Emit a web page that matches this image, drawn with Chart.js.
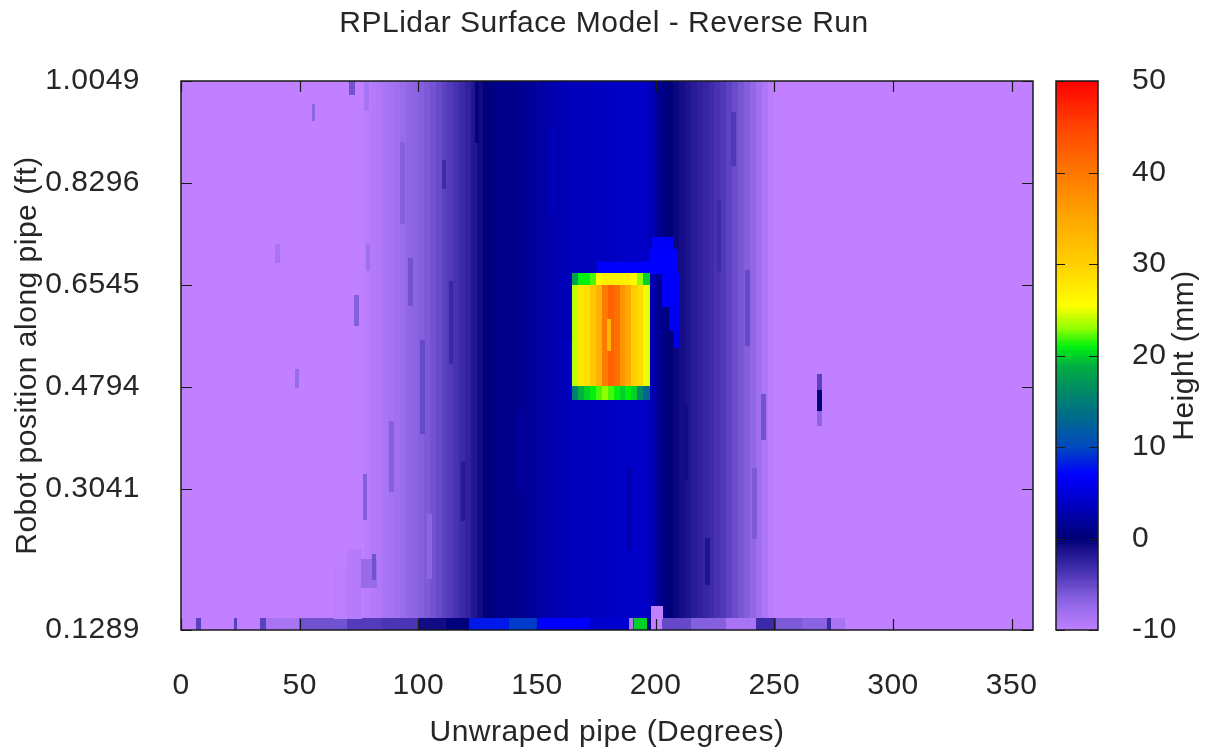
<!DOCTYPE html>
<html lang="en">
<head>
  <meta charset="UTF-8">
  <title>RPLidar Surface Model - Reverse Run</title>
  <script src="https://cdn.jsdelivr.net/npm/chart.js"></script>
  <style>
    body {
      margin: 0;
      background: #ffffff;
    }
    canvas {
      display: block;
    }
  </style>
</head>
<body>
  <canvas id="surfaceChart" width="1208" height="751"></canvas>

  <script>
    // axis ticks
    const xTicks = [0, 50, 100, 150, 200, 250, 300, 350];
    const yTickPos = [0.0624, 0.3041, 0.4794, 0.6545, 0.8296, 1.0049];
    const yTickLabels = ['0.1289', '0.3041', '0.4794', '0.6545', '0.8296', '1.0049'];
    const cbTicks = [-10, 0, 10, 20, 30, 40, 50];

    // colour palette (height in mm -> colour)
    const paletteVals = [-10, -8, -6, -4, -2, 0, 2, 4, 7, 10, 13, 16, 19, 21, 23, 25.5, 30, 35, 40, 45, 50];
    const paletteCols = ['#c080ff', '#a070f0', '#7c5ad8', '#5038b8', '#2a1c98', '#000078', '#00009c', '#0000c8',
      '#0000ff', '#0048c0', '#006890', '#008868', '#00b040', '#00f010', '#90ff00', '#ffff00', '#ffd000',
      '#ffa800', '#ff7800', '#ff4400', '#ff0000'];

    // surface profile across the pipe (degrees -> mm), whole run
    const profileEdges = [0, 77.5, 80, 82.5, 85, 87.5, 90, 92.5, 95, 97.5, 100, 102.5, 105, 107.5, 110, 112.5,
      115, 117.5, 120, 122.5, 125, 127.5, 130, 132.5, 135, 137.5, 140, 142.5, 145, 147.5, 150, 152.5, 155,
      157.5, 160, 162.5, 165, 167.5, 170, 172.5, 175, 177.5, 180, 182.5, 185, 187.5, 190, 192.5, 195, 197.5,
      200, 202.5, 205, 207.5, 210, 212.5, 215, 217.5, 220, 222.5, 225, 227.5, 230, 232.5, 235, 237.5, 240,
      242.5, 245, 247.5, 250, 359];
    const profileVals = [-10, -9.6, -9.3, -9, -8.7, -8.3, -8, -7.6, -7.2, -6.9, -6.5, -6, -5.6, -5.1, -4.6,
      -4.1, -3.6, -3, -2.4, -1.6, -0.8, 0, 0.6, 0.9, 1, 1.1, 1.3, 1.5, 1.7, 2, 2.3, 2.6, 2.8, 3, 3.2,
      3.4, 3.5, 3.5, 3.6, 3.6, 3.7, 3.7, 3.8, 3.8, 3.9, 3.9, 4, 4, 3.8, 3, 1.6, 0.8, 0, -0.5, -1, -1.4,
      -1.9, -2.3, -2.7, -3.1, -3.6, -4, -4.6, -5.2, -5.8, -6.4, -7.2, -8, -8.8, -9.6, -10];
    const profileRows = [0.0830, 1.0049];

    // first scan row (bottom of the plot)
    const firstRow = [0.0624, 0.0830];
    const firstRowEdges = [0, 6.7, 8.8, 22.7, 24, 33.7, 36.2, 50, 70, 85, 100.7, 112, 121.7, 138.6, 150.4, 172,
      189, 190.5, 191, 196.7, 198.4, 203, 215, 230, 242.6, 251, 262, 272.5, 274, 280, 359];
    const firstRowVals = [-10, -4.5, -10, -4.5, -10, -4.5, -8.5, -5.5, -4.2, -3.8, -0.8, 0.2, 8, 9.5, 7, 4.5,
      -9, 13, 20, 1.5, -10, -5, -6.5, -8.5, -3, -6, -6.8, -3, -8.5, -10];

    // obstacle on the pipe wall
    const blockEdges = [165, 167.5, 170, 172.5, 175, 177.5, 180, 182.5, 185, 187.5, 190, 192.5, 195, 197.5];
    const blockRows = [0.4573, 0.4813, 0.6547, 0.6736];
    const blockBottom = [15, 19, 20, 21, 22, 23, 22, 21, 20, 21, 20, 16, 13];
    const blockBody = [24, 28, 28.5, 31, 34, 40, 42, 41, 37, 35, 30, 29, 25];
    const blockTop = [18, 21, 21, 22, 26, 27, 27, 27, 27, 27, 26, 23, 20];

    // local streaks: [deg from, deg to, ft from, ft to, mm]
    const streaks = [
      [71.2, 72.9, 0.9809, 1.0049, -5.5],
      [77.5, 78.8, 0.9550, 1.0049, -8.5],
      [55.2, 56.4, 0.9379, 0.9637, -7],
      [40.0, 41.3, 0.6941, 0.7234, -8.5],
      [78.3, 79.6, 0.6804, 0.7234, -8],
      [73.3, 74.6, 0.5860, 0.6375, -6.5],
      [48.4, 49.7, 0.4779, 0.5088, -7.5],
      [268.3, 270.0, 0.4744, 0.5002, -4.5],
      [268.3, 270.0, 0.4367, 0.4744, 0],
      [268.3, 270.0, 0.4143, 0.4367, -7],
      [244.7, 246.4, 0.3886, 0.4659, -5.5],
      [76.7, 78.0, 0.2513, 0.3285, -6.5],
      [64.5, 70.0, 0.0830, 0.1700, -9.7],
      [70.0, 76.0, 0.0830, 0.2000, -9.4],
      [76.0, 82.5, 0.1350, 0.1826, -7.5],
      [80.5, 82.1, 0.1483, 0.1912, -5.5],
      [110.0, 111.5, 0.8195, 0.8676, -3],
      [96.0, 97.5, 0.6200, 0.7000, -5.5],
      [88.0, 89.5, 0.3000, 0.4200, -6.5],
      [92.5, 94.0, 0.7600, 0.9000, -6.5],
      [101.0, 102.5, 0.4000, 0.5600, -5],
      [104.0, 105.5, 0.1500, 0.2600, -7],
      [113.0, 114.5, 0.5200, 0.6600, -2.8],
      [124.0, 125.5, 0.9000, 1.0049, -0.2],
      [142.0, 143.5, 0.3000, 0.4400, 2.2],
      [156.0, 157.5, 0.7800, 0.9200, 3.6],
      [188.0, 189.5, 0.2000, 0.3400, 2.6],
      [212.0, 213.5, 0.3200, 0.4500, -0.8],
      [226.0, 227.5, 0.6800, 0.8000, -3],
      [232.0, 233.5, 0.8600, 0.9500, -4],
      [238.0, 239.5, 0.5500, 0.6800, -5],
      [241.0, 242.5, 0.2200, 0.3400, -6],
      [118.0, 119.5, 0.2500, 0.3500, -1.8],
      [221.0, 222.5, 0.1400, 0.2200, -1.5],
      [198.4, 203.0, 0.0830, 0.1036, -10],
      [163.8, 165.0, 0.4700, 0.5600, 5.5],
      [175.6, 197.6, 0.6736, 0.6940, 7],
      [198.8, 207.2, 0.7150, 0.7370, 6.5],
      [197.6, 209.4, 0.6750, 0.7150, 7],
      [203.0, 210.2, 0.6170, 0.6750, 6.8],
      [206.0, 210.2, 0.5770, 0.6170, 6.2],
      [208.0, 210.2, 0.5480, 0.5770, 5.5]
    ];
    const blockStreak = [179.8, 180.8, 0.543, 0.595, 33];

    function hexRgb(h) {
      return [parseInt(h.slice(1, 3), 16), parseInt(h.slice(3, 5), 16), parseInt(h.slice(5, 7), 16)];
    }
    const paletteRgb = paletteCols.map(hexRgb);

    function heightColor(v) {
      if (v <= paletteVals[0]) return paletteCols[0];
      for (let i = 1; i < paletteVals.length; i++) {
        if (v <= paletteVals[i]) {
          const t = (v - paletteVals[i - 1]) / (paletteVals[i] - paletteVals[i - 1]);
          const a = paletteRgb[i - 1], b = paletteRgb[i];
          return 'rgb(' + a.map((c, k) => Math.round(c + (b[k] - c) * t)).join(',') + ')';
        }
      }
      return paletteCols[paletteCols.length - 1];
    }

    const textColor = '#262626';
    const spacing = '0.5px';
    Chart.defaults.font.family = "'Liberation Sans', Arial, sans-serif";
    Chart.defaults.font.size = 30;
    Chart.defaults.color = textColor;

    // no extra room for half labels at the ends of the axes
    const noPad = s => { s.paddingTop = 0; s.paddingBottom = 0; s.paddingLeft = 0; s.paddingRight = 0; };

    const surfacePlugin = {
      id: 'surface',
      beforeUpdate(chart) { chart.ctx.letterSpacing = spacing; },
      beforeDraw(chart) { chart.ctx.letterSpacing = spacing; },
      beforeDatasetsDraw(chart) {
        const {ctx, chartArea: a, scales: {x, y}} = chart;
        ctx.save();
        ctx.beginPath();
        ctx.rect(a.left, a.top, a.right - a.left, a.bottom - a.top);
        ctx.clip();
        const cell = (d0, d1, f0, f1, v) => {
          const px0 = Math.floor(x.getPixelForValue(d0)), px1 = Math.ceil(x.getPixelForValue(d1));
          const py0 = Math.floor(y.getPixelForValue(f1)), py1 = Math.ceil(y.getPixelForValue(f0));
          ctx.fillStyle = heightColor(v);
          ctx.fillRect(px0, py0, px1 - px0, py1 - py0);
        };
        profileVals.forEach((v, i) => cell(profileEdges[i], profileEdges[i + 1], profileRows[0], profileRows[1], v));
        firstRowVals.forEach((v, i) => cell(firstRowEdges[i], firstRowEdges[i + 1], firstRow[0], firstRow[1], v));
        streaks.forEach(s => cell(s[0], s[1], s[2], s[3], s[4]));
        [blockBottom, blockBody, blockTop].forEach((row, r) => {
          row.forEach((v, i) => cell(blockEdges[i], blockEdges[i + 1], blockRows[r], blockRows[r + 1], v));
        });
        cell(...blockStreak);
        ctx.restore();
      },
      afterDatasetsDraw(chart) {
        const {ctx, chartArea: a, scales: {x, y, cb}} = chart;
        ctx.save();
        // colour box
        const cbLeft = a.right + 23, cbRight = cbLeft + 42;
        for (let v = -10; v < 50; v += 0.25) {
          const top = Math.floor(cb.getPixelForValue(v + 0.25)), bot = Math.ceil(cb.getPixelForValue(v));
          ctx.fillStyle = heightColor(v + 0.125);
          ctx.fillRect(cbLeft, top, cbRight - cbLeft, bot - top);
        }
        ctx.strokeStyle = '#1a1a1a';
        ctx.lineWidth = 1.5;
        ctx.strokeRect(a.left, a.top, a.right - a.left, a.bottom - a.top);
        ctx.strokeRect(cbLeft, a.top, cbRight - cbLeft, a.bottom - a.top);
        // inward tick marks
        ctx.lineWidth = 1.2;
        ctx.beginPath();
        const tl = 11;
        x.ticks.forEach(t => {
          const px = Math.round(x.getPixelForValue(t.value)) + 0.5;
          ctx.moveTo(px, a.bottom); ctx.lineTo(px, a.bottom - tl);
          ctx.moveTo(px, a.top); ctx.lineTo(px, a.top + tl);
        });
        y.ticks.forEach(t => {
          const py = Math.round(y.getPixelForValue(t.value)) + 0.5;
          ctx.moveTo(a.left, py); ctx.lineTo(a.left + tl, py);
          ctx.moveTo(a.right, py); ctx.lineTo(a.right - tl, py);
        });
        cb.ticks.forEach(t => {
          const py = Math.round(cb.getPixelForValue(t.value)) + 0.5;
          ctx.moveTo(cbLeft, py); ctx.lineTo(cbLeft + 9, py);
          ctx.moveTo(cbRight, py); ctx.lineTo(cbRight - 9, py);
        });
        ctx.stroke();
        // colour box title
        ctx.translate(a.right + 152, (a.top + a.bottom) / 2);
        ctx.rotate(-Math.PI / 2);
        ctx.fillStyle = textColor;
        ctx.font = "30px 'Liberation Sans', Arial, sans-serif";
        ctx.textAlign = 'center';
        ctx.textBaseline = 'middle';
        ctx.fillText('Height (mm)', 0, 0);
        ctx.restore();
      }
    };

    new Chart(document.getElementById('surfaceChart'), {
      type: 'scatter',
      data: { datasets: [{ data: [] }] },
      options: {
        responsive: false,
        animation: false,
        layout: { padding: 0 },
        plugins: {
          legend: { display: false },
          tooltip: { enabled: false },
          title: {
            display: true,
            text: 'RPLidar Surface Model - Reverse Run',
            color: textColor,
            font: { size: 30, weight: 'normal' },
            padding: { top: 6, bottom: 39 }
          }
        },
        scales: {
          x: {
            type: 'linear',
            min: 0,
            max: 359,
            afterBuildTicks: s => { s.ticks = xTicks.map(v => ({ value: v })); },
            afterFit: s => { noPad(s); s.height = 121; },
            ticks: { autoSkip: false, maxRotation: 0, padding: 30 },
            grid: { display: false },
            border: { display: false },
            title: {
              display: true,
              text: 'Unwraped pipe (Degrees)',
              font: { size: 30 },
              padding: { top: 0, bottom: 0 }
            }
          },
          y: {
            type: 'linear',
            position: 'left',
            min: 0.0624,
            max: 1.0049,
            afterBuildTicks: s => { s.ticks = yTickPos.map(v => ({ value: v })); },
            afterFit: s => { noPad(s); s.width = 181; },
            ticks: {
              autoSkip: false,
              padding: 33,
              callback: (v, i) => yTickLabels[i]
            },
            grid: { display: false },
            border: { display: false },
            title: {
              display: true,
              text: 'Robot position along pipe (ft)',
              font: { size: 30 },
              padding: { top: 10, bottom: 0 }
            }
          },
          cb: {
            type: 'linear',
            position: 'right',
            min: -10,
            max: 50,
            afterBuildTicks: s => { s.ticks = cbTicks.map(v => ({ value: v })); },
            afterFit: s => { noPad(s); s.width = 175; },
            ticks: { autoSkip: false, padding: 91 },
            grid: { display: false },
            border: { display: false }
          }
        }
      },
      plugins: [surfacePlugin]
    });
  </script>
</body>
</html>
